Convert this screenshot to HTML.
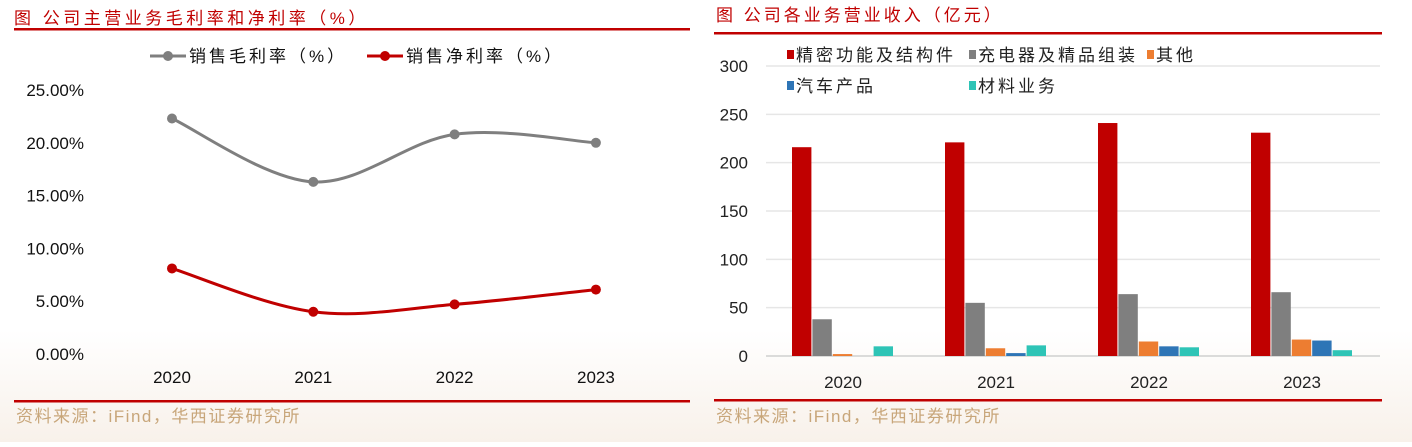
<!DOCTYPE html>
<html><head><meta charset="utf-8"><style>
body{margin:0;width:1412px;height:442px;background:#fff;overflow:hidden;font-family:"Liberation Sans","Noto Sans CJK SC",sans-serif;}
svg text{font-family:"Liberation Sans","Noto Sans CJK SC",sans-serif;}
</style></head><body>
<svg id="c" width="1412" height="442">
<defs><linearGradient id="bg" x1="0" y1="0" x2="0" y2="1"><stop offset="0" stop-color="#fff"/><stop offset="1" stop-color="#f8f1ea"/></linearGradient></defs>
<rect x="0" y="330" width="1412" height="112" fill="url(#bg)"/>
<text x="14" y="24" font-size="17" letter-spacing="3.5" fill="#c00000">图 公司主营业务毛利率和净利率（%）</text>
<rect x="14" y="28" width="676" height="2.5" fill="#c00000"/>
<rect x="14" y="400" width="676" height="2.5" fill="#c00000"/>
<text x="16" y="422" font-size="17" letter-spacing="1.5" fill="#c8a67a">资料来源：iFind，华西证券研究所</text>
<text x="716" y="21" font-size="17" letter-spacing="3" fill="#c00000">图 公司各业务营业收入（亿元）</text>
<rect x="714" y="32" width="668" height="2.5" fill="#c00000"/>
<rect x="714" y="399" width="668" height="2.5" fill="#c00000"/>
<text x="716" y="422" font-size="17" letter-spacing="1.5" fill="#c8a67a">资料来源：iFind，华西证券研究所</text>
<g id="left"></g><g id="right"></g>
</svg>
<script>
const years=["2020","2021","2022","2023"];
const grossMargin=[22.3,16.3,20.8,20.0];
const netMargin=[8.1,4.0,4.7,6.1];
const pctTicks=[0,5,10,15,20,25];
const barSeriesNames=["精密功能及结构件","充电器及精品组装","其他","汽车产品","材料业务"];
const precision=[216,221,241,231];
const charger=[38,55,64,66];
const other=[2,8,15,17];
const auto=[0,3,10,16];
const material=[10,11,9,6];
const revTicks=[0,50,100,150,200,250,300];
const NS="http://www.w3.org/2000/svg";
function mk(p,t,a,txt){const e=document.createElementNS(NS,t);for(const k in a)e.setAttribute(k,a[k]);if(txt!==undefined)e.textContent=txt;p.appendChild(e);return e;}
// left
const L=document.getElementById('left');
const lx=i=>172+i*141.3, ly=v=>354-v*10.56;
pctTicks.forEach(t=>{const e=mk(L,'text',{x:84,y:ly(t)+6,'font-size':17,'text-anchor':'end',fill:'#111'},t.toFixed(2)+'%');

});
years.forEach((y,i)=>{const e=mk(L,'text',{x:lx(i),y:383,'font-size':17,'text-anchor':'middle',fill:'#111'},y);

});
function smooth(pts){let d=`M${pts[0][0]},${pts[0][1]}`;for(let i=0;i<pts.length-1;i++){const p0=pts[i-1]||pts[i],p1=pts[i],p2=pts[i+1],p3=pts[i+2]||p2;const t=0.17;
d+=` C${p1[0]+(p2[0]-p0[0])*t},${p1[1]+(p2[1]-p0[1])*t} ${p2[0]-(p3[0]-p1[0])*t},${p2[1]-(p3[1]-p1[1])*t} ${p2[0]},${p2[1]}`;}return d;}
[[grossMargin,'#7f7f7f','gross-margin'],[netMargin,'#c00000','net-margin']].forEach(([s,c,n])=>{
const pts=s.map((v,i)=>[lx(i),ly(v)]);
const p=mk(L,'path',{d:smooth(pts),fill:'none',stroke:c,'stroke-width':3});


pts.forEach(q=>{const d=mk(L,'circle',{cx:q[0],cy:q[1],r:5,fill:c});

});});
[[150,'#7f7f7f','销售毛利率（%）','legend-gross'],[367,'#c00000','销售净利率（%）','legend-net']].forEach(([x,c,t,n])=>{
const g=mk(L,'g',{});
mk(g,'line',{x1:x,y1:56,x2:x+36,y2:56,stroke:c,'stroke-width':3});mk(g,'circle',{cx:x+18,cy:56,r:5,fill:c});
mk(g,'text',{x:x+39,y:62,'font-size':17,'letter-spacing':3,fill:'#111'},t);});
// right
const R=document.getElementById('right');
const ry=v=>356-v*0.9667, rx=i=>843+i*153;
revTicks.forEach(t=>{const l=mk(R,'line',{x1:766,x2:1380,y1:ry(t),y2:ry(t),stroke:t===0?'#d0d0d0':'#e6e6e6','stroke-width':1.5});


const e=mk(R,'text',{x:748,y:ry(t)+6,'font-size':17,'text-anchor':'end',fill:'#222'},t);

});
years.forEach((y,i)=>{const e=mk(R,'text',{x:rx(i),y:388,'font-size':17,'text-anchor':'middle',fill:'#222'},y);

});
const series=[precision,charger,other,auto,material];
const colors=['#c00000','#7f7f7f','#ed7d31','#2e75b6','#2ec4b6'];
series.forEach((s,k)=>s.forEach((v,i)=>{const x=rx(i)-51+k*20.4;
const b=mk(R,'rect',{x:x,y:ry(v),width:19.4,height:356-ry(v),fill:colors[k]});

}));
const lpos=[[787,55],[969,55],[1147,55],[787,86],[969,86]];
barSeriesNames.forEach((n,k)=>{const g=mk(R,'g',{});


mk(g,'rect',{x:lpos[k][0],y:lpos[k][1]-5,width:7,height:9,fill:colors[k]});
mk(g,'text',{x:lpos[k][0]+9,y:lpos[k][1]+6,'font-size':17,'letter-spacing':3,fill:'#222'},n);});
</script>
</body></html>
